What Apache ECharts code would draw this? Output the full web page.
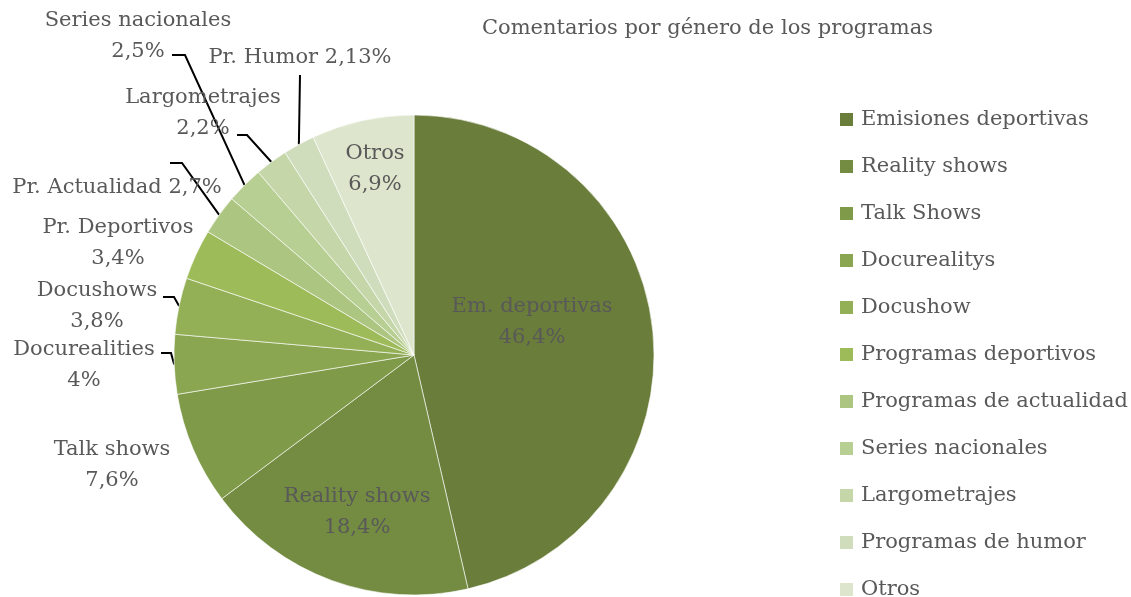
<!DOCTYPE html>
<html>
<head>
<meta charset="UTF-8">
<title>Comentarios por género</title>
<script src="https://cdn.jsdelivr.net/npm/echarts@6/dist/echarts.min.js"></script>
</head>
<body style="margin:0">
<div id="main" style="width:1131px;height:597px;"></div>
<script>
var categories = ['Emisiones deportivas', 'Reality shows', 'Talk Shows', 'Docurealitys', 'Docushow',
    'Programas deportivos', 'Programas de actualidad', 'Series nacionales', 'Largometrajes',
    'Programas de humor', 'Otros'];
var labelNames = ['Em. deportivas', 'Reality shows', 'Talk shows', 'Docurealities', 'Docushows',
    'Pr. Deportivos', 'Pr. Actualidad', 'Series nacionales', 'Largometrajes', 'Pr. Humor', 'Otros'];
var values = [46.4, 18.4, 7.6, 4, 3.8, 3.4, 2.7, 2.5, 2.2, 2.13, 6.9];
var colors = ['#6a7d3a', '#748c42', '#7f9a48', '#8aa650', '#93b057', '#9dbb58',
    '#acc580', '#b8cf94', '#c5d6a8', '#d0ddbc', '#dde6cd'];

// label placement (centre of text block) and leader elbows, like the Excel original
var labelPlace = [
    {x: 532, y: 322, inside: true},
    {x: 357, y: 512, inside: true},
    {x: 112, y: 465},
    {x: 84, y: 365, line: [[171, 353], [161, 353]]},
    {x: 97, y: 306, line: [[174, 297], [163, 297]]},
    {x: 118, y: 243},
    {x: 117, y: 188, oneLine: true, line: [[182, 163], [170, 163]]},
    {x: 138, y: 36, line: [[185, 55], [172, 55]]},
    {x: 203, y: 113, line: [[247, 135], [237, 135]]},
    {x: 300, y: 58, oneLine: true, line: [[300, 75], [300, 75]]},
    {x: 375, y: 169, inside: true}
];

var font = 'DejaVu Serif';
var textColor = '#595959';

var seriesData = categories.map(function (c, i) {
    var p = labelPlace[i];
    return {
        name: c,
        value: values[i],
        itemStyle: {color: colors[i]},
        label: {position: p.inside ? 'inside' : 'outside'},
        labelLine: {show: !!p.line}
    };
});

var myChart = echarts.init(document.getElementById('main'));
myChart.setOption({
    animation: false,
    title: {
        text: 'Comentarios por género de los programas',
        left: 482,
        top: 18,
        padding: 0,
        textStyle: {fontFamily: font, fontSize: 21, fontWeight: 'normal', color: textColor}
    },
    legend: {
        orient: 'vertical',
        left: 833,
        top: 104,
        height: 700,
        icon: 'rect',
        itemWidth: 15,
        itemHeight: 15,
        itemGap: 26,
        data: categories,
        textStyle: {fontFamily: font, fontSize: 21, color: textColor, padding: [0, 0, 0, 2]}
    },
    series: [{
        type: 'pie',
        center: [414, 355],
        radius: 240,
        startAngle: 90,
        clockwise: true,
        data: seriesData,
        itemStyle: {borderColor: '#ffffff', borderWidth: 0.6},
        label: {
            fontFamily: font,
            fontSize: 21,
            color: textColor,
            lineHeight: 31,
            align: 'center',
            overflow: 'none',
            width: 300,
            formatter: function (p) {
                var i = p.dataIndex;
                var v = String(values[i]).replace('.', ',') + '%';
                return labelNames[i] + (labelPlace[i].oneLine ? ' ' : '\n') + v;
            }
        },
        labelLine: {lineStyle: {color: '#000000', width: 2}},
        labelLayout: function (params) {
            var p = labelPlace[params.dataIndex];
            var out = {x: p.x, y: p.y, align: 'center', verticalAlign: 'middle'};
            if (p.line && params.labelLinePoints) {
                out.labelLinePoints = [params.labelLinePoints[0], p.line[0], p.line[1]];
            }
            return out;
        },
        emphasis: {disabled: true}
    }]
});
</script>
</body>
</html>
